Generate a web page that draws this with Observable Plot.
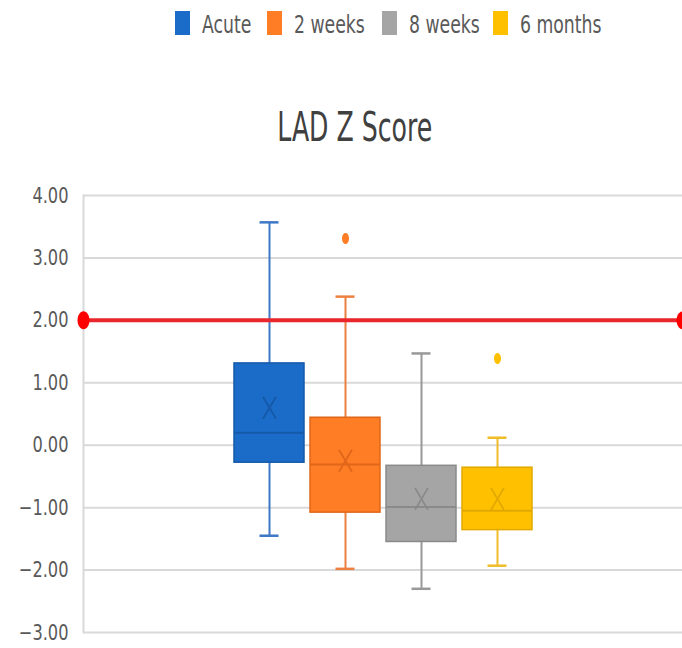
<!DOCTYPE html>
<html><head><meta charset="utf-8">
<script src="https://cdn.jsdelivr.net/npm/d3@7"></script>
<script src="https://cdn.jsdelivr.net/npm/@observablehq/plot@0.6"></script>
<style>
html,body{margin:0;padding:0;background:#fff;overflow:hidden;}
#wrap{position:relative;width:682px;height:648px;font-family:"Liberation Sans Narrow","DejaVu Sans Condensed","Liberation Sans",sans-serif;}
#head{position:relative;height:172px;}
.sw{position:absolute;top:11px;width:15px;height:24px;}
.lt{position:absolute;top:10px;font-size:24px;color:#595959;line-height:30px;white-space:nowrap;transform:scaleX(0.8);transform-origin:0 50%;}
#title{position:absolute;top:103px;left:0;width:710px;text-align:center;font-size:40px;color:#404040;line-height:48px;}
#title span{display:inline-block;transform:scaleX(0.70);}
</style>
</head><body>
<div id="wrap"><div id="head"></div><div id="chart"></div></div>
<script>
const categories = ["Acute", "2 weeks", "8 weeks", "6 months"];
const whiskerLow  = [-1.45, -1.98, -2.30, -1.93];
const q1          = [-0.28, -1.08, -1.55, -1.36];
const median      = [ 0.20, -0.31, -0.99, -1.05];
const q3          = [ 1.31,  0.44, -0.33, -0.36];
const whiskerHigh = [ 3.57,  2.38,  1.47,  0.12];
const mean        = [ 0.60, -0.25, -0.86, -0.86];
const outlierCats   = ["2 weeks", "6 months"];
const outlierValues = [3.31, 1.39];
const threshold = 2;
const yTicks = [-3, -2, -1, 0, 1, 2, 3, 4];
const title = "LAD Z Score";

const fills  = ["#1a6cc8", "#ff7d24", "#a5a5a5", "#ffc000"];
const darks  = ["#1559a8", "#e0671a", "#8a8a8a", "#e3a800"];
const whisk  = ["#3f78c6", "#ec8040", "#999999", "#f0bd2a"];

// legend + title (HTML above the SVG)
const head = document.getElementById("head");
const swLeft = [175, 267, 382, 493];
categories.forEach((c, i) => {
  const s = document.createElement("div");
  s.className = "sw"; s.style.left = swLeft[i] + "px"; s.style.background = fills[i];
  head.appendChild(s);
  const t = document.createElement("div");
  t.className = "lt"; t.style.left = (swLeft[i] + 27) + "px"; t.textContent = c;
  head.appendChild(t);
});
const ti = document.createElement("div");
ti.id = "title"; ti.innerHTML = "<span></span>"; ti.firstChild.textContent = title;
head.appendChild(ti);

const boxes = categories.map((c, i) => ({
  cat: c, lo: whiskerLow[i], q1: q1[i], med: median[i], q3: q3[i], hi: whiskerHigh[i], mean: mean[i],
  fill: fills[i], dark: darks[i], whisk: whisk[i]
}));
const outliers = outlierCats.map((c, i) => ({cat: c, v: outlierValues[i], fill: fills[categories.indexOf(c)]}));

const ellipse = (rx, ry) => ({
  draw(ctx) {
    const k = 0.5523;
    ctx.moveTo(rx, 0);
    ctx.bezierCurveTo(rx, ry * k, rx * k, ry, 0, ry);
    ctx.bezierCurveTo(-rx * k, ry, -rx, ry * k, -rx, 0);
    ctx.bezierCurveTo(-rx, -ry * k, -rx * k, -ry, 0, -ry);
    ctx.bezierCurveTo(rx * k, -ry, rx, -ry * k, rx, 0);
    ctx.closePath();
  }
});
const tallX = {
  draw(ctx) {
    ctx.moveTo(-6.5, -11); ctx.lineTo(6.5, 11);
    ctx.moveTo(6.5, -11); ctx.lineTo(-6.5, 11);
  }
};
const fmt = d => (d < 0 ? "\u2212" : "") + Math.abs(d).toFixed(2);

const chart = Plot.plot({
  width: 682,
  height: 476,
  marginTop: 23,
  marginBottom: 16,
  marginLeft: 83,
  marginRight: 0,
  style: {fontFamily: '"Liberation Sans Narrow","DejaVu Sans Condensed","Liberation Sans",sans-serif', background: "#fff", overflow: "visible"},
  x: {domain: categories, paddingInner: 0.08, paddingOuter: 1.98, axis: null},
  y: {domain: [-3, 4], label: null},
  color: {type: "identity"},
  marks: [
    Plot.gridY(yTicks, {stroke: "#d9d9d9", strokeOpacity: 1, strokeWidth: 2}),
    Plot.frame({anchor: "left", stroke: "#d9d9d9", strokeWidth: 2}),
    Plot.axisY(yTicks, {tickSize: 0, tickPadding: 15, tickFormat: fmt, fontSize: 22, fill: "#595959"}),
    Plot.ruleX(boxes, {x: "cat", y1: "lo", y2: "hi", stroke: "whisk", strokeWidth: 2}),
    Plot.tickY(boxes, {x: "cat", y: "lo", stroke: "whisk", strokeWidth: 2.5, insetLeft: 25.5, insetRight: 25.5}),
    Plot.tickY(boxes, {x: "cat", y: "hi", stroke: "whisk", strokeWidth: 2.5, insetLeft: 25.5, insetRight: 25.5}),
    Plot.barY(boxes, {x: "cat", y1: "q1", y2: "q3", fill: "fill", stroke: "dark", strokeWidth: 1.5}),
    Plot.tickY(boxes, {x: "cat", y: "med", stroke: "dark", strokeWidth: 2}),
    Plot.dot(boxes, {x: "cat", y: "mean", symbol: tallX, fill: "none", stroke: "dark", strokeWidth: 1.8}),
    Plot.dot(outliers, {x: "cat", y: "v", symbol: ellipse(3.5, 5.5), fill: "fill", stroke: "none"}),
    Plot.ruleY([threshold], {stroke: "#e8262b", strokeWidth: 4}),
    Plot.dot([threshold], {y: d => d, frameAnchor: "left", symbol: ellipse(6, 9), fill: "#ff0000", stroke: "none"}),
    Plot.dot([threshold], {y: d => d, frameAnchor: "right", symbol: ellipse(6, 9), fill: "#ff0000", stroke: "none"})
  ]
});
// horizontally condense the y tick labels (reference text is narrow)
d3.select(chart).selectAll('g[aria-label="y-axis tick label"] text').each(function() {
  const t = this.getAttribute("transform") || "";
  this.setAttribute("transform", t + " scale(0.82,1)");
});
document.getElementById("chart").appendChild(chart);
</script>
</body></html>
